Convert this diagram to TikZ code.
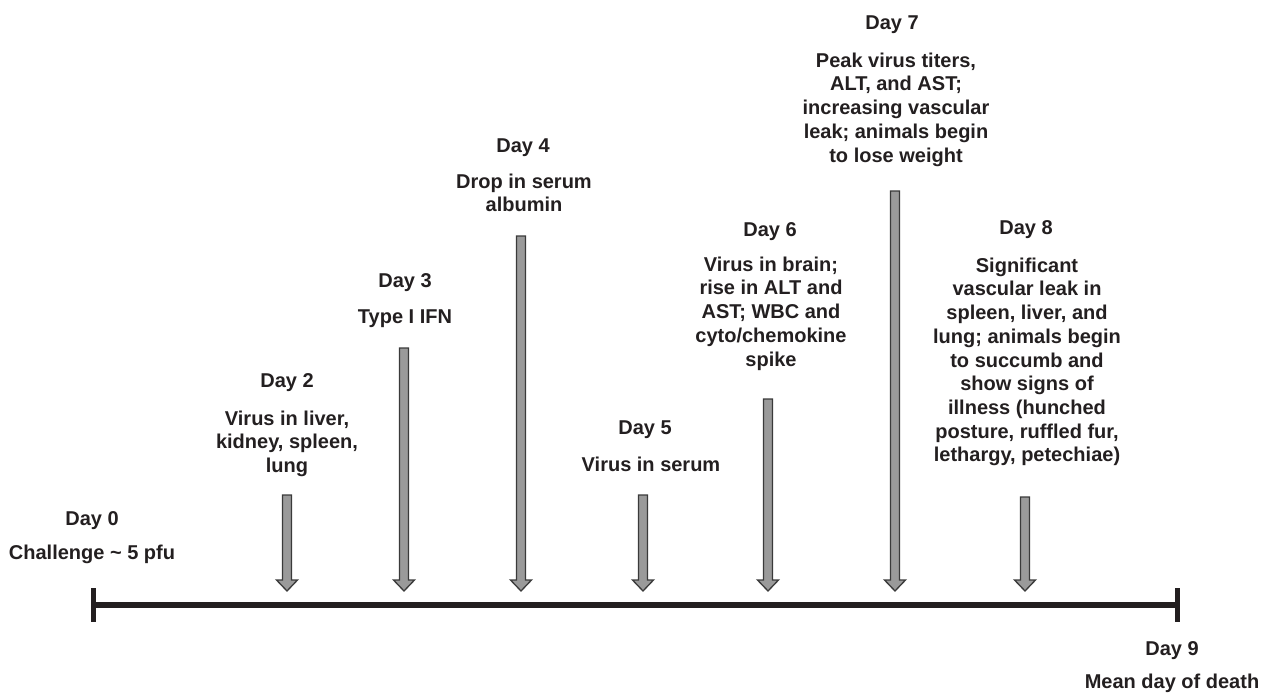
\documentclass[tikz,border=0pt]{standalone}
\usepackage{fontspec}
\setmainfont{Liberation Sans}
\definecolor{ink}{HTML}{231F20}
\definecolor{arrfill}{HTML}{9A9A9A}
\definecolor{arredge}{HTML}{3A3A3A}
\newcommand{\blockarr}[3]{% name, x, top
  \coordinate (#1top) at (#2,#3);
  \coordinate (#1tip) at (#2,591);
  \draw[blockarrow] (#2-4.5,#3) -- (#2+4.5,#3) -- (#2+4.5,580) -- (#2+10.5,580)
    -- (#1tip) -- (#2-10.5,580) -- (#2-4.5,580) -- cycle;}
\begin{document}
\begin{tikzpicture}[x=1pt,y=-1pt,
  daytitle/.style={anchor=base,inner sep=0,text=ink,font=\fontsize{20}{23.7}\selectfont\bfseries},
  daybody/.style={anchor=north,inner sep=0,align=center,text=ink,font=\fontsize{20}{23.7}\selectfont\bfseries},
  blockarrow/.style={fill=arrfill,draw=arredge,line width=1.3pt,line join=miter},
  axis/.style={draw=ink,line width=5.5pt},
  tick/.style={draw=ink,line width=5pt}]
\useasboundingbox (0,0) rectangle (1267,694);
% timeline
\coordinate (t0) at (93,605);
\coordinate (t9) at (1177,605);
\draw[axis] (t0) -- (t9);
\coordinate (t0a) at (93,588);
\coordinate (t0b) at (93,622);
\coordinate (t9a) at (1177,588);
\coordinate (t9b) at (1177,622);
\draw[tick] (t0a) -- (t0b);
\draw[tick] (t9a) -- (t9b);
% arrows
\blockarr{a2}{287}{495}
\blockarr{a3}{404}{348}
\blockarr{a4}{521}{236}
\blockarr{a5}{643}{495}
\blockarr{a6}{768}{399}
\blockarr{a7}{895}{191}
\blockarr{a8}{1025}{497}
% Day 0
\node[daytitle] (d0) at (92,525) {Day 0};
\node[daybody] (b0) at (92,559-16) {\rule{0pt}{16pt}Challenge \char"007E{} 5 pfu};
% Day 2
\node[daytitle] (d2) at (287,387) {Day 2};
\node[daybody] (b2) at (287,425-16) {\rule{0pt}{16pt}Virus in liver,\\kidney, spleen,\\lung};
% Day 3
\node[daytitle] (d3) at (405,287) {Day 3};
\node[daybody] (b3) at (405,323-16) {\rule{0pt}{16pt}Type I IFN};
% Day 4
\node[daytitle] (d4) at (523,152) {Day 4};
\node[daybody] (b4) at (524,188-16) {\rule{0pt}{16pt}Drop in serum\\albumin};
% Day 5
\node[daytitle] (d5) at (645,434) {Day 5};
\node[daybody] (b5) at (651,471-16) {\rule{0pt}{16pt}Virus in serum};
% Day 6
\node[daytitle] (d6) at (770,236) {Day 6};
\node[daybody] (b6) at (771,271-16) {\rule{0pt}{16pt}Virus in brain;\\rise in ALT and\\AST; WBC and\\cyto/chemokine\\spike};
% Day 7
\node[daytitle] (d7) at (892,29) {Day 7};
\node[daybody] (b7) at (896,67-16) {\rule{0pt}{16pt}Peak virus titers,\\ALT, and AST;\\increasing vascular\\leak; animals begin\\to lose weight};
% Day 8
\node[daytitle] (d8) at (1026,234) {Day 8};
\node[daybody] (b8) at (1027,272-16) {\rule{0pt}{16pt}Significant\\vascular leak in\\spleen, liver, and\\lung; animals begin\\to succumb and\\show signs of\\illness (hunched\\posture, ruffled fur,\\lethargy, petechiae)};
% Day 9
\node[daytitle] (d9) at (1172,655) {Day 9};
\node[daybody] (b9) at (1172,688-16) {\rule{0pt}{16pt}Mean day of death};
\end{tikzpicture}
\end{document}
